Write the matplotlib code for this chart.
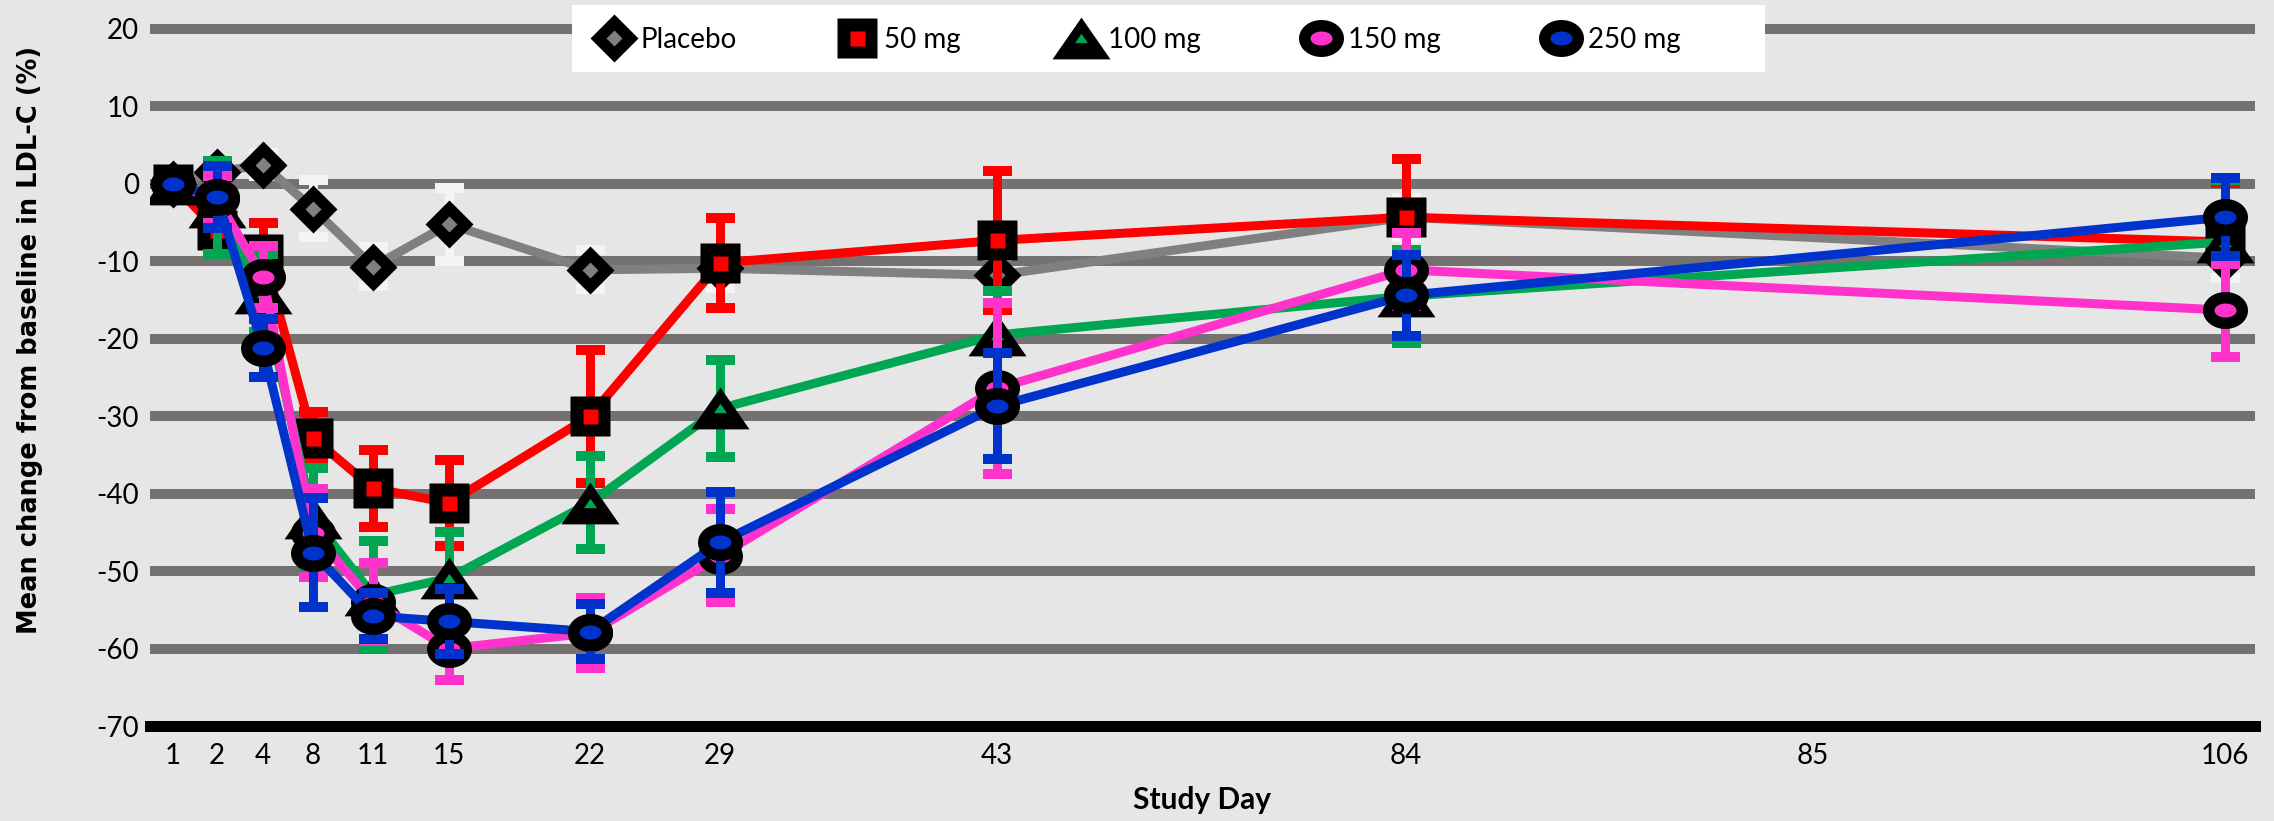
import matplotlib
matplotlib.use("Agg")
import matplotlib.pyplot as plt
import numpy as np
from matplotlib.path import Path
from matplotlib.lines import Line2D
from matplotlib.patches import Rectangle
from matplotlib.legend_handler import HandlerTuple

# ---------------- data ----------------
day_labels = ['1', '2', '4', '8', '11', '15', '22', '29', '43', '84', '85', '106']
tick_pos = [23, 67, 113, 163, 223, 299, 440, 570, 847, 1256, 1663, 2075]
visit_days = ['1', '2', '4', '8', '11', '15', '22', '29', '43', '84', '106']

placebo = [0, 1.5, 2.5, -3.2, -10.7, -5.2, -11.1, -10.9, -11.8, -4.3, -9.6]
placebo_err = [0, 1.5, 1.5, 3.7, 2.5, 4.7, 2.5, 2.5, 2.5, 2.5, 2.5]
mg50 = [0, -6.0, -9.0, -32.8, -39.3, -41.2, -30.0, -10.2, -7.3, -4.3, -7.5]
mg50_err = [0, 2.0, 4.0, 3.3, 5.0, 5.5, 8.6, 5.8, 9.0, 7.5, 7.6]
mg100 = [0, -3.0, -14.1, -43.2, -53.1, -50.9, -41.2, -29.0, -19.5, -14.5, -7.5]
mg100_err = [0, 6.0, 5.0, 6.5, 7.0, 6.0, 6.0, 6.3, 5.7, 6.0, 8.0]
mg150 = [0, -2.0, -12.0, -45.1, -54.0, -60.0, -58.0, -48.0, -26.4, -11.1, -16.3]
mg150_err = [0, 3.0, 4.0, 5.7, 5.0, 4.1, 4.5, 6.0, 11.0, 4.7, 6.0]
mg250 = [0, -1.7, -21.2, -47.6, -55.8, -56.5, -57.8, -46.3, -28.7, -14.4, -4.3]
mg250_err = [0, 4.0, 3.7, 7.0, 3.0, 4.2, 3.5, 6.5, 6.8, 5.2, 5.0]

series_names = ['Placebo', '50 mg', '100 mg', '150 mg', '250 mg']
y_ticks = [20, 10, 0, -10, -20, -30, -40, -50, -60, -70]

# ---------------- styling ----------------
W, H = 2274, 821
PT = 0.72  # points per pixel at dpi 100

BG = '#e6e6e6'
GRID = '#767171'
TICK_FONT = 'Lato'


def poly(points):
    pts = list(points) + [points[0]]
    return Path(pts, closed=True)


def ellipse(aspect):
    t = np.linspace(0, 2 * np.pi, 73)
    return Path(np.c_[0.5 * np.cos(t), 0.5 * aspect * np.sin(t)], closed=True)


diamond = poly([(0, 0.5), (0.5, 0), (0, -0.5), (-0.5, 0)])
square = poly([(-0.5, -0.5), (0.5, -0.5), (0.5, 0.5), (-0.5, 0.5)])
triangle = poly([(-0.5, -0.36), (0.5, -0.36), (0, 0.36)])
ell_out = ellipse(37 / 45)
ell_in = ellipse(14 / 22)

styles = [
    dict(color='#808080', ecolor='#f4f4f4', outer=diamond, outer_ms=48 * PT, inner=diamond, inner_ms=16 * PT, inner_c='#808080'),
    dict(color='#ff0000', ecolor='#ff0000', outer=square, outer_ms=40 * PT, inner=square, inner_ms=15 * PT, inner_c='#ff0000'),
    dict(color='#00a651', ecolor='#00a651', outer=triangle, outer_ms=58 * PT, inner=triangle, inner_ms=13 * PT, inner_c='#00a651'),
    dict(color='#ff33cc', ecolor='#ff33cc', outer=ell_out, outer_ms=45 * PT, inner=ell_in, inner_ms=22 * PT, inner_c='#ff33cc'),
    dict(color='#0033cc', ecolor='#0033cc', outer=ell_out, outer_ms=45 * PT, inner=ell_in, inner_ms=22 * PT, inner_c='#0033cc'),
]
values = [placebo, mg50, mg100, mg150, mg250]
errors = [placebo_err, mg50_err, mg100_err, mg150_err, mg250_err]

# ---------------- figure ----------------
fig = plt.figure(figsize=(W / 100, H / 100), dpi=100, facecolor=BG)
ax = fig.add_axes([150 / W, 95 / H, 2105 / W, 726 / H])
ax.set_facecolor(BG)
for s in ax.spines.values():
    s.set_visible(False)

ax.set_xlim(0, 2105)
ax.set_ylim(-70, 23.74)

# gridlines
for v in y_ticks:
    if v == -70:
        ax.axhline(v, color='black', lw=11 * PT, zorder=1, clip_on=False)
    else:
        ax.axhline(v, color=GRID, lw=10 * PT, zorder=1)

x = [tick_pos[day_labels.index(d)] for d in visit_days]

handles = []
for i, (vals, errs, st) in enumerate(zip(values, errors, styles)):
    z = 3 + i * 0.5
    ax.errorbar(x, vals, yerr=errs, fmt='none', ecolor=st['ecolor'],
                elinewidth=9 * PT, capsize=14.5 * PT, capthick=10 * PT, zorder=z)
    ax.plot(x, vals, color=st['color'], lw=9 * PT, zorder=z + 0.1,
            solid_joinstyle='miter')
    ax.plot(x, vals, ls='none', marker=st['outer'], ms=st['outer_ms'],
            mfc='black', mec='none', zorder=z + 0.2)
    ax.plot(x, vals, ls='none', marker=st['inner'], ms=st['inner_ms'],
            mfc=st['inner_c'], mec='none', zorder=z + 0.3)
    h_out = Line2D([], [], ls='none', marker=st['outer'], ms=st['outer_ms'],
                   mfc='black', mec='none')
    h_in = Line2D([], [], ls='none', marker=st['inner'], ms=st['inner_ms'],
                  mfc=st['inner_c'], mec='none')
    handles.append((h_out, h_in))

# ticks
ax.set_xticks(tick_pos)
ax.set_xticklabels(day_labels)
ax.set_yticks(y_ticks)
ax.set_yticklabels([str(v) for v in y_ticks])
ax.tick_params(axis='both', length=0, labelsize=20, colors='black')
ax.tick_params(axis='y', pad=8)
ax.tick_params(axis='x', pad=12)
for lab in ax.get_xticklabels() + ax.get_yticklabels():
    lab.set_fontfamily(TICK_FONT)

# axis titles
fig.text(30 / W, 1 - 340 / H, 'Mean change from baseline in LDL-C (%)',
         rotation=90, ha='center', va='center', fontsize=18.5,
         fontweight='bold', family='DejaVu Sans')
fig.text(1202 / W, 1 - 800 / H, 'Study Day', ha='center', va='center',
         fontsize=21.5, fontweight='bold', family=TICK_FONT)

# legend with white box
fig.add_artist(Rectangle((572 / W, 1 - 72 / H), (1765 - 572) / W, 67 / H,
                         transform=fig.transFigure, facecolor='white',
                         edgecolor='none', zorder=4))
leg = fig.legend(handles, series_names, handler_map={tuple: HandlerTuple(ndivide=1)},
                 loc='center left', bbox_to_anchor=(600 / W, 1 - 40 / H),
                 bbox_transform=fig.transFigure, ncol=5, frameon=False,
                 borderpad=0, borderaxespad=0, handlelength=1.0,
                 handletextpad=0.45, columnspacing=3.85,
                 prop={'family': TICK_FONT, 'size': 20})
leg.set_zorder(5)

fig.savefig('out.png', dpi=100, facecolor=BG)
